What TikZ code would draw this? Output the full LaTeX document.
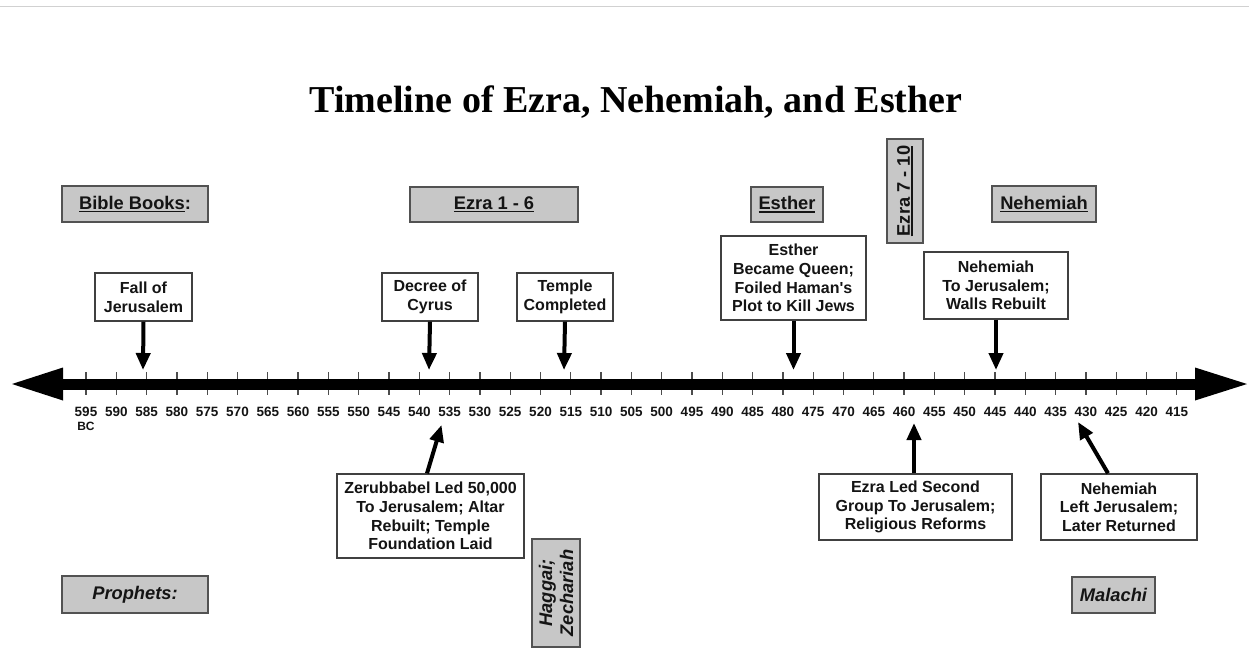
\documentclass[tikz,border=0pt]{standalone}
\usepackage{fontspec}
\newfontfamily\arialf{Liberation Sans}
\newfontfamily\timesf{Liberation Serif}
\usetikzlibrary{arrows.meta}
\newcommand{\uln}[1]{\setbox0\hbox{#1}\rlap{\hbox{#1}}\rule[-3pt]{\wd0}{1.5pt}}
\tikzset{
  book/.style={draw=black!68, line width=1.6pt, fill=black!22, inner sep=0pt,
    align=center, text=black!92, font=\arialf\bfseries\fontsize{18.3}{21}\selectfont},
  prophet/.style={book, font=\arialf\bfseries\itshape\fontsize{18.3}{21}\selectfont},
  event/.style={draw=black!75, line width=1.4pt, fill=white, inner sep=0pt,
    align=center, text=black!92, font=\arialf\bfseries\fontsize{16}{18.7}\selectfont},
  evarrow/.style={line width=4pt, black, -{Triangle[length=17pt,width=14pt]}},
  axtick/.style={line width=1.3pt, black!70},
  yearlbl/.style={inner sep=0pt, text=black!92, font=\arialf\bfseries\fontsize{13.5}{15}\selectfont}
}
\begin{document}
\begin{tikzpicture}[x=1pt,y=-1pt]
\useasboundingbox (0,0) rectangle (1249,648);
% top rule
\draw[line width=1.5pt, black!18] (0,6.5) -- (1249,6.5);
% title
\node[font=\timesf\bfseries\fontsize{38}{44}\selectfont] (title) at (636,102) {Timeline of Ezra, Nehemiah, and Esther};

% ticks and year labels
\foreach \i in {0,...,36} {
  \pgfmathsetmacro{\xx}{86+\i*30.3}
  \pgfmathtruncatemacro{\yr}{595-5*\i}
  \draw[axtick] (\xx,372) -- (\xx,395);
  \node[yearlbl] (y\yr) at (\xx,412) {\yr};
}
\node[yearlbl, font=\arialf\bfseries\fontsize{12}{14}\selectfont] (bc) at (86,426) {BC};

% axis
\draw[line width=11pt, black] (60,384) -- (1198,384);
\fill[black] (12,384) -- (63,367.5) -- (63,400.5) -- cycle;
\fill[black] (1247,384) -- (1195,367.5) -- (1195,400.5) -- cycle;

% book boxes
\node[book, minimum width=146, minimum height=36] (bible) at (135,204) {\uln{Bible Books}:};
\node[book, minimum width=168, minimum height=35] (ezra16) at (494,204.5) {\uln{Ezra 1 - 6}};
\node[book, minimum width=72, minimum height=35] (esther) at (787,204.5) {\uln{Esther}};
\node[book, rotate=90, minimum width=104, minimum height=36] (ezra710) at (905,191) {\uln{Ezra 7 - 10}};
\node[book, minimum width=104, minimum height=36] (nehemiah) at (1044,204) {\uln{Nehemiah}};

% prophets
\node[prophet, minimum width=146, minimum height=37] (prophets) at (135,594.5) {Prophets:};
\node[prophet, minimum width=83, minimum height=36] (malachi) at (1113.5,595) {Malachi};
\node[prophet, rotate=90, minimum width=108, minimum height=48] (haggai) at (556,593) {Haggai;\\Zechariah};

% event boxes above
\node[event, minimum width=97, minimum height=48] (fall) at (143.5,297) {Fall of\\Jerusalem};
\node[event, minimum width=96, minimum height=48] (decree) at (430,297) {Decree of\\Cyrus};
\node[event, minimum width=96, minimum height=48] (temple) at (565,297) {Temple\\Completed};
\node[event, minimum width=145, minimum height=84] (queen) at (793.5,278) {Esther\\Became Queen;\\Foiled Haman's\\Plot to Kill Jews};
\node[event, minimum width=144, minimum height=67] (nehto) at (996,285.5) {Nehemiah\\To Jerusalem;\\Walls Rebuilt};

% event boxes below
\node[event, minimum width=187, minimum height=84] (zer) at (430.5,516) {Zerubbabel Led 50,000\\To Jerusalem; Altar\\Rebuilt; Temple\\Foundation Laid};
\node[event, minimum width=193, minimum height=66] (ezraled) at (915.5,507) {Ezra Led Second\\Group To Jerusalem;\\Religious Reforms};
\node[event, minimum width=156, minimum height=66] (nehleft) at (1119,507) {Nehemiah\\Left Jerusalem;\\Later Returned};

% arrow tips
\coordinate (tfall) at (143,370);
\coordinate (tdecree) at (429,370);
\coordinate (ttemple) at (564,370);
\coordinate (tqueen) at (793.5,370);
\coordinate (tnehto) at (996,370);
\coordinate (tzer) at (441.5,425);
\coordinate (tezra) at (914,423);
\coordinate (tnehleft) at (1078,422);

\draw[evarrow] (fall.south) -- (tfall);
\draw[evarrow] (decree.south) -- (tdecree);
\draw[evarrow] (temple.south) -- (ttemple);
\draw[evarrow] (queen.south) -- (tqueen);
\draw[evarrow] (nehto.south) -- (tnehto);
\draw[evarrow] ([xshift=-3.5pt]zer.north) -- (tzer);
\draw[evarrow] ([xshift=-1.5pt]ezraled.north) -- (tezra);
\draw[evarrow] ([xshift=-11pt]nehleft.north) -- (tnehleft);
\end{tikzpicture}
\end{document}
